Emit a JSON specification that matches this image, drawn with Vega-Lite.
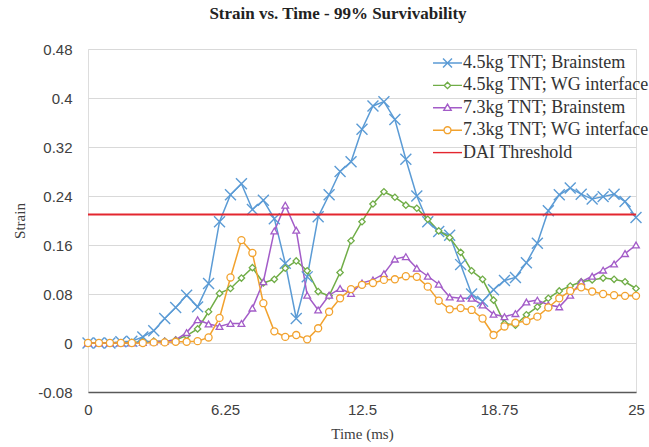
{
  "$schema": "https://vega.github.io/schema/vega-lite/v6.json",
  "width": 548,
  "height": 343,
  "autosize": {"type": "none"},
  "padding": {"left": 88, "top": 49, "right": 13, "bottom": 55},
  "background": "white",
  "title": {"text": "Strain vs. Time - 99% Survivability", "font": "Liberation Serif", "fontSize": 17, "fontWeight": "bold", "color": "#222222", "anchor": "middle", "dx": -24, "offset": 19},
  "datasets": {
    "wide": [
      {"t":0,"b":0,"g":0,"p":0,"o":0},
      {"t":0.5,"b":0,"g":0,"p":0,"o":0},
      {"t":1,"b":0,"g":0,"p":0,"o":0},
      {"t":1.5,"b":0.002,"g":0,"p":0,"o":0},
      {"t":2,"b":0.003,"g":0.001,"p":0,"o":0},
      {"t":2.5,"b":0.01,"g":0.002,"p":0.001,"o":0},
      {"t":3,"b":0.02,"g":0.003,"p":0.002,"o":0.001},
      {"t":3.5,"b":0.04,"g":0.003,"p":0.003,"o":0.001},
      {"t":4,"b":0.058,"g":0.005,"p":0.005,"o":0.002},
      {"t":4.5,"b":0.078,"g":0.012,"p":0.017,"o":0.002},
      {"t":5,"b":0.059,"g":0.023,"p":0.038,"o":0.003},
      {"t":5.5,"b":0.097,"g":0.051,"p":0.031,"o":0.009},
      {"t":6,"b":0.198,"g":0.081,"p":0.027,"o":0.041},
      {"t":6.5,"b":0.242,"g":0.089,"p":0.032,"o":0.107},
      {"t":7,"b":0.26,"g":0.106,"p":0.032,"o":0.168},
      {"t":7.5,"b":0.218,"g":0.123,"p":0.057,"o":0.147},
      {"t":8,"b":0.233,"g":0.098,"p":0.1,"o":0.065},
      {"t":8.5,"b":0.203,"g":0.104,"p":0.183,"o":0.019},
      {"t":9,"b":0.13,"g":0.122,"p":0.225,"o":0.01},
      {"t":9.5,"b":0.04,"g":0.134,"p":0.184,"o":0.013},
      {"t":10,"b":0.108,"g":0.118,"p":0.078,"o":0.006},
      {"t":10.5,"b":0.206,"g":0.084,"p":0.054,"o":0.024},
      {"t":11,"b":0.242,"g":0.077,"p":0.078,"o":0.051},
      {"t":11.5,"b":0.28,"g":0.115,"p":0.089,"o":0.073},
      {"t":12,"b":0.296,"g":0.167,"p":0.081,"o":0.088},
      {"t":12.5,"b":0.349,"g":0.198,"p":0.098,"o":0.095},
      {"t":13,"b":0.387,"g":0.227,"p":0.103,"o":0.098},
      {"t":13.5,"b":0.394,"g":0.247,"p":0.113,"o":0.103},
      {"t":14,"b":0.365,"g":0.238,"p":0.137,"o":0.104},
      {"t":14.5,"b":0.3,"g":0.225,"p":0.141,"o":0.109},
      {"t":15,"b":0.24,"g":0.22,"p":0.122,"o":0.108},
      {"t":15.5,"b":0.198,"g":0.202,"p":0.109,"o":0.092},
      {"t":16,"b":0.182,"g":0.183,"p":0.096,"o":0.069},
      {"t":16.5,"b":0.176,"g":0.172,"p":0.075,"o":0.055},
      {"t":17,"b":0.128,"g":0.148,"p":0.073,"o":0.057},
      {"t":17.5,"b":0.08,"g":0.118,"p":0.073,"o":0.054},
      {"t":18,"b":0.068,"g":0.104,"p":0.062,"o":0.04},
      {"t":18.5,"b":0.087,"g":0.07,"p":0.047,"o":0.013},
      {"t":19,"b":0.102,"g":0.032,"p":0.043,"o":0.027},
      {"t":19.5,"b":0.107,"g":0.029,"p":0.048,"o":0.033},
      {"t":20,"b":0.131,"g":0.046,"p":0.067,"o":0.036},
      {"t":20.5,"b":0.163,"g":0.059,"p":0.07,"o":0.043},
      {"t":21,"b":0.216,"g":0.073,"p":0.062,"o":0.058},
      {"t":21.5,"b":0.242,"g":0.085,"p":0.059,"o":0.073},
      {"t":22,"b":0.253,"g":0.093,"p":0.078,"o":0.085},
      {"t":22.5,"b":0.243,"g":0.1,"p":0.1,"o":0.091},
      {"t":23,"b":0.235,"g":0.103,"p":0.109,"o":0.084},
      {"t":23.5,"b":0.239,"g":0.106,"p":0.119,"o":0.08},
      {"t":24,"b":0.243,"g":0.104,"p":0.129,"o":0.078},
      {"t":24.5,"b":0.231,"g":0.1,"p":0.146,"o":0.077},
      {"t":25,"b":0.205,"g":0.089,"p":0.16,"o":0.077}
    ],
    "threshold": [
      {"t":0,"v":0.21,"s":"DAI Threshold"},
      {"t":25,"v":0.21,"s":"DAI Threshold"}
    ],
    "legendrows": [
      {"t":0,"v":0,"s":"4.5kg TNT; Brainstem"},
      {"t":0,"v":0,"s":"4.5kg TNT; WG interface"},
      {"t":0,"v":0,"s":"7.3kg TNT; Brainstem"},
      {"t":0,"v":0,"s":"7.3kg TNT; WG interface"},
      {"t":0,"v":0.21,"s":"DAI Threshold"}
    ]
  },
  "data": {"name": "wide"},
  "transform": [
    {"fold": ["b","g","p","o"], "as": ["k","v"]},
    {"lookup": "k", "from": {"data": {"values": [
      {"k":"b","s":"4.5kg TNT; Brainstem"},
      {"k":"g","s":"4.5kg TNT; WG interface"},
      {"k":"p","s":"7.3kg TNT; Brainstem"},
      {"k":"o","s":"7.3kg TNT; WG interface"}
    ]}, "key": "k", "fields": ["s"]}}
  ],
  "encoding": {
    "x": {"field": "t", "type": "quantitative", "scale": {"domain": [0, 25], "nice": false, "zero": false},
      "axis": {"values": [0, 6.25, 12.5, 18.75, 25], "labelExpr": "datum.value + ''", "grid": false, "ticks": false, "domain": true, "domainColor": "#595959", "domainWidth": 1.5,
        "labelFont": "Liberation Sans", "labelFontSize": 15, "labelColor": "#404040", "labelPadding": 10, "labelFlush": false,
        "title": "Time (ms)", "titleFont": "Liberation Serif", "titleFontSize": 15, "titleFontWeight": "normal", "titleColor": "#404040", "titlePadding": 9}},
    "y": {"field": "v", "type": "quantitative", "scale": {"domain": [-0.08, 0.48], "nice": false, "zero": false},
      "axis": {"values": [-0.08, 0, 0.08, 0.16, 0.24, 0.32, 0.4, 0.48], "labelExpr": "datum.value + ''",
        "grid": true, "gridColor": "#d9d9d9", "gridWidth": 1, "domain": false, "ticks": false,
        "labelFont": "Liberation Sans", "labelFontSize": 15, "labelColor": "#404040", "labelPadding": 16,
        "title": "Strain", "titleFont": "Liberation Serif", "titleFontSize": 15, "titleFontWeight": "normal", "titleColor": "#404040", "titlePadding": 10}}
  },
  "layer": [
    {
      "mark": {"type": "line", "strokeWidth": 1.5},
      "encoding": {
        "stroke": {"field": "s", "type": "nominal",
          "scale": {"domain": ["4.5kg TNT; Brainstem", "4.5kg TNT; WG interface", "7.3kg TNT; Brainstem", "7.3kg TNT; WG interface"],
                    "range": ["#5B9BD5", "#70AD47", "#A35CC8", "#F2A22E"]},
          "legend": null}
      }
    },
    {
      "transform": [{"filter": "datum.k === 'b'"}],
      "mark": {"type": "point", "shape": "M-1,-1L1,1M-1,1L1,-1", "size": 120, "filled": false, "stroke": "#5B9BD5", "strokeWidth": 1.4, "opacity": 1},
      "encoding": {}
    },
    {
      "transform": [{"filter": "datum.k === 'g'"}],
      "mark": {"type": "point", "shape": "diamond", "size": 40, "filled": true, "fill": "white", "stroke": "#70AD47", "strokeWidth": 1.3, "opacity": 1},
      "encoding": {}
    },
    {
      "transform": [{"filter": "datum.k === 'p'"}],
      "mark": {"type": "point", "shape": "triangle-up", "size": 45, "filled": true, "fill": "white", "stroke": "#A35CC8", "strokeWidth": 1.3, "opacity": 1},
      "encoding": {}
    },
    {
      "transform": [{"filter": "datum.k === 'o'"}],
      "mark": {"type": "point", "shape": "circle", "size": 50, "filled": true, "fill": "white", "stroke": "#F2A22E", "strokeWidth": 1.3, "opacity": 1},
      "encoding": {}
    },
    {
      "data": {"name": "threshold"},
      "transform": [],
      "mark": {"type": "line", "strokeWidth": 2, "color": "#E3262F"},
      "encoding": {}
    },
    {
      "data": {"name": "legendrows"},
      "transform": [],
      "mark": {"type": "point", "filled": false, "opacity": 0},
      "encoding": {
        "color": {"field": "s", "type": "nominal",
          "scale": {"domain": ["4.5kg TNT; Brainstem", "4.5kg TNT; WG interface", "7.3kg TNT; Brainstem", "7.3kg TNT; WG interface", "DAI Threshold"],
                    "range": ["#5B9BD5", "#70AD47", "#A35CC8", "#F2A22E", "#E3262F"]},
          "legend": {"title": null, "orient": "none", "legendX": 347, "legendY": 1.5, "symbolSize": 529, "symbolStrokeWidth": 1.4, "symbolOpacity": 1,
            "labelFont": "Liberation Serif", "labelFontSize": 18, "labelColor": "#333333", "labelOffset": 3, "rowPadding": 0.4, "padding": 0, "labelLimit": 400}},
        "shape": {"field": "s", "type": "nominal",
          "scale": {"domain": ["4.5kg TNT; Brainstem", "4.5kg TNT; WG interface", "7.3kg TNT; Brainstem", "7.3kg TNT; WG interface", "DAI Threshold"],
                    "range": [
                      "M-1.26,0L1.26,0M-0.39,-0.39L0.39,0.39M-0.39,0.39L0.39,-0.39",
                      "M-1.26,0L-0.28,0M0.28,0L1.26,0M-0.28,0L0,-0.28L0.28,0L0,0.28Z",
                      "M-1.26,0L-0.19,0M0.19,0L1.26,0M-0.32,0.22L0,-0.32L0.32,0.22Z",
                      "M-1.26,0L-0.3,0M0.3,0L1.26,0M0.3,0A0.3,0.3,0,1,1,-0.3,0A0.3,0.3,0,1,1,0.3,0Z",
                      "M-1.26,0L1.26,0"
                    ]},
          "legend": {"title": null, "orient": "none", "legendX": 347, "legendY": 1.5, "symbolSize": 529, "symbolStrokeWidth": 1.4, "symbolOpacity": 1,
            "labelFont": "Liberation Serif", "labelFontSize": 18, "labelColor": "#333333", "labelOffset": 3, "rowPadding": 0.4, "padding": 0, "labelLimit": 400}}
      }
    }
  ]
}
